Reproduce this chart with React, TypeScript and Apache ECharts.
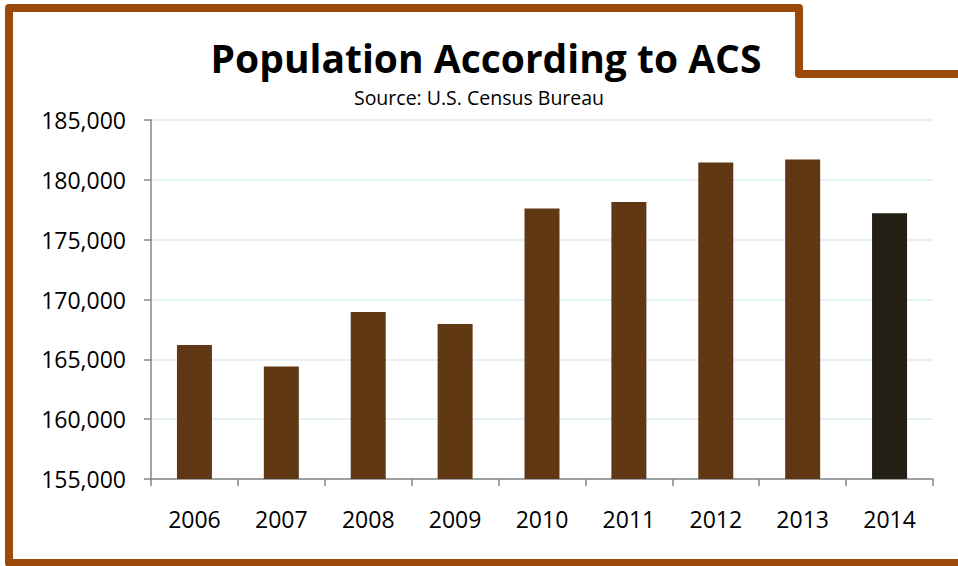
import React, { useEffect, useRef } from "react";
import * as echarts from "echarts";

const years = ["2006", "2007", "2008", "2009", "2010", "2011", "2012", "2013", "2014"];
const population = [166200, 164400, 168950, 167950, 177600, 178150, 181450, 181700, 177200];
const barColors = ["#603813", "#603813", "#603813", "#603813", "#603813", "#603813", "#603813", "#603813", "#231f14"];
const titleText = "Population According to ACS";
const subtitleText = "Source: U.S. Census Bureau";

export default function App() {
  const ref = useRef<HTMLDivElement>(null);
  useEffect(() => {
    if (!ref.current) return;
    const chart = echarts.init(ref.current, null, { renderer: "svg" });
    const font = "'Open Sans', 'Noto Sans', sans-serif";
    chart.setOption({
      animation: false,
      backgroundColor: "#ffffff",
      textStyle: { fontFamily: font },
      graphic: [
        {
          type: "polyline",
          shape: {
            points: [
              [1000, 74],
              [799, 74],
              [799, 8],
              [9, 8],
              [9, 563],
              [1000, 563],
            ],
          },
          style: { stroke: "#9c4a0c", lineWidth: 8, fill: "none", lineJoin: "round" },
          z: 10,
        },
        {
          type: "text",
          x: 486,
          y: 57,
          style: {
            text: titleText,
            fontFamily: font,
            fontWeight: "bold",
            fontSize: 39,
            lineHeight: 39,
            fill: "#000000",
            align: "center",
            verticalAlign: "middle",
          },
        },
        {
          type: "text",
          x: 479,
          y: 97,
          style: {
            text: subtitleText,
            fontFamily: font,
            fontSize: 19.5,
            lineHeight: 19,
            fill: "#000000",
            align: "center",
            verticalAlign: "middle",
          },
        },
      ],
      grid: { left: 151, right: 25, top: 120, bottom: 87, containLabel: false },
      xAxis: {
        type: "category",
        data: years,
        axisLine: { lineStyle: { color: "#868686", width: 1.5 } },
        axisTick: { show: true, length: 7, inside: false, lineStyle: { color: "#868686", width: 1.5 } },
        axisLabel: { color: "#000000", fontSize: 23, fontFamily: font, margin: 28 },
      },
      yAxis: {
        type: "value",
        min: 155000,
        max: 185000,
        interval: 5000,
        axisLine: { show: true, lineStyle: { color: "#868686", width: 1.5 } },
        axisTick: { show: true, length: 7, lineStyle: { color: "#868686", width: 1.5 } },
        axisLabel: {
          color: "#000000",
          fontSize: 23,
          fontFamily: font,
          margin: 25,
          formatter: (v: number) => v.toLocaleString("en-US"),
        },
        splitLine: { lineStyle: { color: "#dcecf4", width: 1.5 } },
      },
      series: [
        {
          type: "bar",
          data: population.map((v, i) => ({ value: v, itemStyle: { color: barColors[i] } })),
          barWidth: 35,
        },
      ],
    });
    return () => chart.dispose();
  }, []);
  return <div ref={ref} style={{ width: 958, height: 566, position: "absolute", left: 0, top: 0 }} />;
}
